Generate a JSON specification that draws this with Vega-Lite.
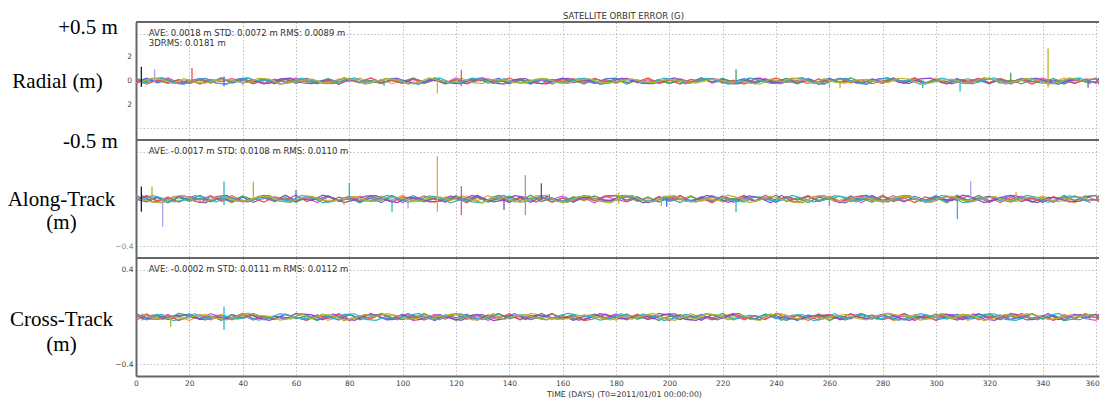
{
"$schema":"https://vega.github.io/schema/vega-lite/v6.json",
"background":"white",
"padding":{"left":7,"top":12,"right":0,"bottom":0},
"spacing":0,
"bounds":"flush",
"config":{
 "view":{"stroke":null},
 "axis":{"gridColor":"#bdbdbd","gridDash":[1.5,2],"gridWidth":1,"ticks":false,"domain":false,"labelFont":"DejaVu Sans","labelFontSize":7.5,"labelColor":"#444","labelFlush":false,"labelOverlap":false,"titleFont":"Liberation Serif","titleFontSize":21,"titleFontWeight":"normal","titleColor":"#000"}
},
"datasets":{
"radial":[
{"t":0,"G05":-14,"G12":-22,"G07":-7,"G21":25,"G15":17},
{"t":4,"G05":20,"G12":17,"G07":24,"G21":-14,"G15":-27},
{"t":8,"G05":-6,"G12":-6,"G07":-15,"G21":5,"G15":10},
{"t":12,"G05":25,"G12":26,"G07":11,"G21":-21,"G15":-16},
{"t":16,"G05":-19,"G12":-16,"G07":-23,"G21":13,"G15":5},
{"t":20,"G05":9,"G12":9,"G07":2,"G21":-23,"G15":-20},
{"t":24,"G05":-24,"G12":-27,"G07":19,"G21":8,"G15":15},
{"t":28,"G05":13,"G12":12,"G07":-10,"G21":-17,"G15":-14},
{"t":32,"G05":-3,"G12":-4,"G07":26,"G21":27,"G15":20},
{"t":36,"G05":22,"G12":21,"G07":-18,"G21":-10,"G15":-6},
{"t":40,"G05":-17,"G12":-18,"G07":8,"G21":16,"G15":25},
{"t":44,"G05":6,"G12":7,"G07":-25,"G21":-5,"G15":-19},
{"t":48,"G05":-26,"G12":-24,"G07":14,"G21":20,"G15":9},
{"t":52,"G05":16,"G12":15,"G07":-5,"G21":-15,"G15":-24},
{"t":56,"G05":-9,"G12":-11,"G07":21,"G21":14,"G15":13},
{"t":60,"G05":27,"G12":23,"G07":-13,"G21":-20,"G15":-3},
{"t":64,"G05":-12,"G12":-2,"G07":23,"G21":6,"G15":22},
{"t":68,"G05":4,"G12":-19,"G07":-8,"G21":-25,"G15":-17},
{"t":72,"G05":-21,"G12":10,"G07":17,"G21":19,"G15":6},
{"t":76,"G05":18,"G12":-26,"G07":-27,"G21":-9,"G15":-26},
{"t":80,"G05":-7,"G12":18,"G07":10,"G21":24,"G15":16},
{"t":84,"G05":24,"G12":-8,"G07":-16,"G21":-13,"G15":-9},
{"t":88,"G05":-15,"G12":25,"G07":5,"G21":3,"G15":27},
{"t":92,"G05":11,"G12":-14,"G07":-20,"G21":-22,"G15":-12},
{"t":96,"G05":-23,"G12":5,"G07":15,"G21":17,"G15":4},
{"t":100,"G05":2,"G12":-21,"G07":-14,"G21":-6,"G15":-21},
{"t":104,"G05":19,"G12":13,"G07":20,"G21":26,"G15":18},
{"t":108,"G05":-10,"G12":-23,"G07":-6,"G21":-16,"G15":-7},
{"t":112,"G05":26,"G12":8,"G07":25,"G21":9,"G15":24},
{"t":116,"G05":-18,"G12":-17,"G07":-19,"G21":-27,"G15":-15},
{"t":120,"G05":8,"G12":27,"G07":9,"G21":12,"G15":11},
{"t":124,"G05":-25,"G12":-10,"G07":-24,"G21":-4,"G15":-23},
{"t":128,"G05":14,"G12":16,"G07":13,"G21":21,"G15":2},
{"t":132,"G05":-5,"G12":-5,"G07":-3,"G21":-18,"G15":19},
{"t":136,"G05":21,"G12":20,"G07":22,"G21":7,"G15":-10},
{"t":140,"G05":-13,"G12":-15,"G07":-17,"G21":-24,"G15":26},
{"t":144,"G05":23,"G12":14,"G07":6,"G21":15,"G15":-18},
{"t":148,"G05":-8,"G12":-20,"G07":-26,"G21":-11,"G15":8},
{"t":152,"G05":17,"G12":6,"G07":16,"G21":23,"G15":-25},
{"t":156,"G05":-27,"G12":-25,"G07":-9,"G21":-2,"G15":14},
{"t":160,"G05":10,"G12":19,"G07":27,"G21":-19,"G15":-5},
{"t":164,"G05":-16,"G12":-9,"G07":-12,"G21":10,"G15":21},
{"t":168,"G05":5,"G12":24,"G07":4,"G21":-26,"G15":-13},
{"t":172,"G05":-20,"G12":-13,"G07":-21,"G21":18,"G15":23},
{"t":176,"G05":15,"G12":3,"G07":18,"G21":-8,"G15":-8},
{"t":180,"G05":-22,"G12":-7,"G07":25,"G21":17,"G15":-14},
{"t":184,"G05":17,"G12":24,"G07":-14,"G21":-27,"G15":20},
{"t":188,"G05":-6,"G12":-15,"G07":5,"G21":10,"G15":-6},
{"t":192,"G05":26,"G12":11,"G07":-21,"G21":-16,"G15":25},
{"t":196,"G05":-16,"G12":-23,"G07":13,"G21":5,"G15":-19},
{"t":200,"G05":9,"G12":2,"G07":-23,"G21":-20,"G15":9},
{"t":204,"G05":-27,"G12":19,"G07":8,"G21":15,"G15":-24},
{"t":208,"G05":12,"G12":-10,"G07":-17,"G21":-14,"G15":13},
{"t":212,"G05":-4,"G12":26,"G07":27,"G21":20,"G15":-3},
{"t":216,"G05":21,"G12":-18,"G07":-10,"G21":-6,"G15":22},
{"t":220,"G05":-18,"G12":8,"G07":16,"G21":25,"G15":-17},
{"t":224,"G05":7,"G12":-25,"G07":-5,"G21":-19,"G15":6},
{"t":228,"G05":-24,"G12":14,"G07":20,"G21":9,"G15":-26},
{"t":232,"G05":15,"G12":-5,"G07":-15,"G21":-24,"G15":16},
{"t":236,"G05":-11,"G12":21,"G07":14,"G21":13,"G15":-9},
{"t":240,"G05":23,"G12":-13,"G07":-20,"G21":-3,"G15":27},
{"t":244,"G05":-2,"G12":23,"G07":6,"G21":22,"G15":-12},
{"t":248,"G05":-19,"G12":-8,"G07":-25,"G21":-17,"G15":4},
{"t":252,"G05":10,"G12":17,"G07":19,"G21":6,"G15":-21},
{"t":256,"G05":-26,"G12":-27,"G07":-9,"G21":-26,"G15":18},
{"t":260,"G05":18,"G12":10,"G07":24,"G21":16,"G15":-7},
{"t":264,"G05":-8,"G12":-16,"G07":-13,"G21":-9,"G15":24},
{"t":268,"G05":25,"G12":5,"G07":3,"G21":27,"G15":-15},
{"t":272,"G05":-14,"G12":-20,"G07":-22,"G21":-12,"G15":11},
{"t":276,"G05":5,"G12":15,"G07":17,"G21":4,"G15":-23},
{"t":280,"G05":-21,"G12":-14,"G07":-6,"G21":-21,"G15":2},
{"t":284,"G05":13,"G12":20,"G07":26,"G21":18,"G15":19},
{"t":288,"G05":-23,"G12":-6,"G07":-16,"G21":-7,"G15":-10},
{"t":292,"G05":8,"G12":25,"G07":9,"G21":24,"G15":26},
{"t":296,"G05":-17,"G12":-19,"G07":-27,"G21":-15,"G15":-18},
{"t":300,"G05":27,"G12":9,"G07":12,"G21":11,"G15":8},
{"t":304,"G05":-10,"G12":-24,"G07":-4,"G21":-23,"G15":-25},
{"t":308,"G05":16,"G12":13,"G07":21,"G21":2,"G15":14},
{"t":312,"G05":-5,"G12":-3,"G07":-18,"G21":19,"G15":-5},
{"t":316,"G05":20,"G12":22,"G07":7,"G21":-10,"G15":21},
{"t":320,"G05":-15,"G12":-17,"G07":-24,"G21":26,"G15":-13},
{"t":324,"G05":14,"G12":6,"G07":15,"G21":-18,"G15":23},
{"t":328,"G05":-20,"G12":-26,"G07":-11,"G21":8,"G15":-8},
{"t":332,"G05":6,"G12":16,"G07":23,"G21":-25,"G15":17},
{"t":336,"G05":-25,"G12":-9,"G07":-2,"G21":14,"G15":-27},
{"t":340,"G05":19,"G12":27,"G07":-19,"G21":-5,"G15":10},
{"t":344,"G05":-9,"G12":-12,"G07":10,"G21":21,"G15":-16},
{"t":348,"G05":24,"G12":4,"G07":-26,"G21":-13,"G15":5},
{"t":352,"G05":-13,"G12":-21,"G07":18,"G21":23,"G15":-20},
{"t":356,"G05":3,"G12":18,"G07":-8,"G21":-8,"G15":15},
{"t":360,"G05":-14,"G12":-22,"G07":-7,"G21":25,"G15":17},
{"t":361,"G05":20,"G12":17,"G07":24,"G21":-14,"G15":-27},
{"t":2,"G30":-14,"G03":-22,"G04":-7},
{"t":6,"G30":20,"G03":17,"G04":24},
{"t":10,"G30":25,"G03":26,"G04":11},
{"t":14,"G30":-19,"G03":-16,"G04":-23},
{"t":18,"G30":-24,"G03":-27,"G04":19},
{"t":22,"G30":13,"G03":12,"G04":-10},
{"t":26,"G30":22,"G03":21,"G04":-18},
{"t":30,"G30":-17,"G03":-18,"G04":8},
{"t":34,"G30":-26,"G03":-24,"G04":14},
{"t":38,"G30":16,"G03":15,"G04":-5},
{"t":42,"G30":27,"G03":23,"G04":-13},
{"t":46,"G30":-12,"G03":-2,"G04":23},
{"t":50,"G30":-21,"G03":10,"G04":17},
{"t":54,"G30":18,"G03":-26,"G04":-27},
{"t":58,"G30":24,"G03":-8,"G04":-16},
{"t":62,"G30":-15,"G03":25,"G04":5},
{"t":66,"G30":-23,"G03":5,"G04":15},
{"t":70,"G30":2,"G03":-21,"G04":-14},
{"t":74,"G30":-10,"G03":-23,"G04":-6},
{"t":78,"G30":26,"G03":8,"G04":25},
{"t":82,"G30":8,"G03":27,"G04":9},
{"t":86,"G30":-25,"G03":-10,"G04":-24},
{"t":90,"G30":-5,"G03":-5,"G04":-3},
{"t":94,"G30":21,"G03":20,"G04":22},
{"t":98,"G30":23,"G03":14,"G04":6},
{"t":102,"G30":-8,"G03":-20,"G04":-26},
{"t":106,"G30":-27,"G03":-25,"G04":-9},
{"t":110,"G30":10,"G03":19,"G04":27},
{"t":114,"G30":5,"G03":24,"G04":4},
{"t":118,"G30":-20,"G03":-13,"G04":-21},
{"t":122,"G30":-22,"G03":-7,"G04":25},
{"t":126,"G30":17,"G03":24,"G04":-14},
{"t":130,"G30":26,"G03":11,"G04":-21},
{"t":134,"G30":-16,"G03":-23,"G04":13},
{"t":138,"G30":-27,"G03":19,"G04":8},
{"t":142,"G30":12,"G03":-10,"G04":-17},
{"t":146,"G30":21,"G03":-18,"G04":-10},
{"t":150,"G30":-18,"G03":8,"G04":16},
{"t":154,"G30":-24,"G03":14,"G04":20},
{"t":158,"G30":15,"G03":-5,"G04":-15},
{"t":162,"G30":23,"G03":-13,"G04":-20},
{"t":166,"G30":-2,"G03":23,"G04":6},
{"t":170,"G30":10,"G03":17,"G04":19},
{"t":174,"G30":-26,"G03":-27,"G04":-9},
{"t":178,"G30":-8,"G03":-16,"G04":-13},
{"t":182,"G30":25,"G03":5,"G04":3},
{"t":186,"G30":5,"G03":15,"G04":17},
{"t":190,"G30":-21,"G03":-14,"G04":-6},
{"t":194,"G30":-23,"G03":-6,"G04":-16},
{"t":198,"G30":8,"G03":25,"G04":9},
{"t":202,"G30":27,"G03":9,"G04":12},
{"t":206,"G30":-10,"G03":-24,"G04":-4},
{"t":210,"G30":-5,"G03":-3,"G04":-18},
{"t":214,"G30":20,"G03":22,"G04":7},
{"t":218,"G30":14,"G03":6,"G04":15},
{"t":222,"G30":-20,"G03":-26,"G04":-11},
{"t":226,"G30":-25,"G03":-9,"G04":-2},
{"t":230,"G30":19,"G03":27,"G04":-19},
{"t":234,"G30":24,"G03":4,"G04":-26},
{"t":238,"G30":-13,"G03":-21,"G04":18},
{"t":242,"G30":-14,"G03":-22,"G04":-7},
{"t":246,"G30":20,"G03":17,"G04":24},
{"t":250,"G30":25,"G03":26,"G04":11},
{"t":254,"G30":-19,"G03":-16,"G04":-23},
{"t":258,"G30":-24,"G03":-27,"G04":19},
{"t":262,"G30":13,"G03":12,"G04":-10},
{"t":266,"G30":22,"G03":21,"G04":-18},
{"t":270,"G30":-17,"G03":-18,"G04":8},
{"t":274,"G30":-26,"G03":-24,"G04":14},
{"t":278,"G30":16,"G03":15,"G04":-5},
{"t":282,"G30":27,"G03":23,"G04":-13},
{"t":286,"G30":-12,"G03":-2,"G04":23},
{"t":290,"G30":-21,"G03":10,"G04":17},
{"t":294,"G30":18,"G03":-26,"G04":-27},
{"t":298,"G30":24,"G03":-8,"G04":-16},
{"t":302,"G30":-15,"G03":25,"G04":5},
{"t":306,"G30":-23,"G03":5,"G04":15},
{"t":310,"G30":2,"G03":-21,"G04":-14},
{"t":314,"G30":-10,"G03":-23,"G04":-6},
{"t":318,"G30":26,"G03":8,"G04":25},
{"t":322,"G30":8,"G03":27,"G04":9},
{"t":326,"G30":-25,"G03":-10,"G04":-24},
{"t":330,"G30":-5,"G03":-5,"G04":-3},
{"t":334,"G30":21,"G03":20,"G04":22},
{"t":338,"G30":23,"G03":14,"G04":6},
{"t":342,"G30":-8,"G03":-20,"G04":-26},
{"t":346,"G30":-27,"G03":-25,"G04":-9},
{"t":350,"G30":10,"G03":19,"G04":27},
{"t":354,"G30":5,"G03":24,"G04":4},
{"t":358,"G30":-20,"G03":-13,"G04":-21}
],
"along":[
{"t":0,"G05":31,"G12":-11,"G07":-3,"G21":29,"G15":-7},
{"t":4,"G05":-22,"G12":30,"G07":-24,"G21":-10,"G15":24},
{"t":8,"G05":12,"G12":-15,"G07":13,"G21":20,"G15":-19},
{"t":12,"G05":-29,"G12":6,"G07":-32,"G21":-31,"G15":18},
{"t":16,"G05":17,"G12":-25,"G07":21,"G21":13,"G15":-26},
{"t":20,"G05":-4,"G12":23,"G07":-10,"G21":-20,"G15":8},
{"t":24,"G05":27,"G12":-9,"G07":30,"G21":7,"G15":-31},
{"t":28,"G05":-20,"G12":28,"G07":-18,"G21":-24,"G15":22},
{"t":32,"G05":9,"G12":-19,"G07":7,"G21":19,"G15":-12},
{"t":36,"G05":-32,"G12":14,"G07":-25,"G21":-18,"G15":29},
{"t":40,"G05":21,"G12":-27,"G07":16,"G21":26,"G15":-17},
{"t":44,"G05":-11,"G12":3,"G07":-29,"G21":-8,"G15":4},
{"t":48,"G05":30,"G12":24,"G07":10,"G21":31,"G15":-27},
{"t":52,"G05":-15,"G12":-13,"G07":-20,"G21":-22,"G15":20},
{"t":56,"G05":6,"G12":32,"G07":31,"G21":12,"G15":-9},
{"t":60,"G05":-25,"G12":-21,"G07":-13,"G21":-29,"G15":32},
{"t":64,"G05":23,"G12":10,"G07":20,"G21":17,"G15":-21},
{"t":68,"G05":-9,"G12":-30,"G07":-7,"G21":-4,"G15":11},
{"t":72,"G05":28,"G12":18,"G07":24,"G21":27,"G15":-30},
{"t":76,"G05":-19,"G12":-7,"G07":-19,"G21":-20,"G15":15},
{"t":80,"G05":14,"G12":25,"G07":18,"G21":9,"G15":-6},
{"t":84,"G05":-27,"G12":-16,"G07":-26,"G21":-32,"G15":25},
{"t":88,"G05":3,"G12":29,"G07":8,"G21":21,"G15":-23},
{"t":92,"G05":24,"G12":-10,"G07":-31,"G21":-11,"G15":9},
{"t":96,"G05":-13,"G12":20,"G07":22,"G21":30,"G15":-28},
{"t":100,"G05":32,"G12":-31,"G07":-12,"G21":-15,"G15":19},
{"t":104,"G05":-21,"G12":13,"G07":29,"G21":6,"G15":-14},
{"t":108,"G05":10,"G12":-20,"G07":-17,"G21":-25,"G15":27},
{"t":112,"G05":-30,"G12":7,"G07":4,"G21":23,"G15":-3},
{"t":116,"G05":18,"G12":-24,"G07":-27,"G21":-9,"G15":-24},
{"t":120,"G05":-7,"G12":19,"G07":20,"G21":28,"G15":13},
{"t":124,"G05":25,"G12":-18,"G07":-9,"G21":-19,"G15":-32},
{"t":128,"G05":-16,"G12":26,"G07":32,"G21":14,"G15":21},
{"t":132,"G05":29,"G12":-8,"G07":-21,"G21":-27,"G15":-10},
{"t":136,"G05":-10,"G12":31,"G07":11,"G21":3,"G15":30},
{"t":140,"G05":20,"G12":-22,"G07":-30,"G21":24,"G15":-18},
{"t":144,"G05":-31,"G12":12,"G07":15,"G21":-13,"G15":7},
{"t":148,"G05":13,"G12":-29,"G07":-6,"G21":32,"G15":-25},
{"t":152,"G05":-20,"G12":17,"G07":25,"G21":-21,"G15":16},
{"t":156,"G05":7,"G12":-4,"G07":-23,"G21":10,"G15":-29},
{"t":160,"G05":-24,"G12":27,"G07":9,"G21":-30,"G15":10},
{"t":164,"G05":19,"G12":-20,"G07":-28,"G21":18,"G15":-20},
{"t":168,"G05":-18,"G12":9,"G07":19,"G21":-7,"G15":31},
{"t":172,"G05":26,"G12":-32,"G07":-14,"G21":25,"G15":-13},
{"t":176,"G05":-8,"G12":21,"G07":27,"G21":-16,"G15":20},
{"t":180,"G05":-11,"G12":-3,"G07":29,"G21":-7,"G15":31},
{"t":184,"G05":30,"G12":-24,"G07":-10,"G21":24,"G15":-22},
{"t":188,"G05":-15,"G12":13,"G07":20,"G21":-19,"G15":12},
{"t":192,"G05":6,"G12":-32,"G07":-31,"G21":18,"G15":-29},
{"t":196,"G05":-25,"G12":21,"G07":13,"G21":-26,"G15":17},
{"t":200,"G05":23,"G12":-10,"G07":-20,"G21":8,"G15":-4},
{"t":204,"G05":-9,"G12":30,"G07":7,"G21":-31,"G15":27},
{"t":208,"G05":28,"G12":-18,"G07":-24,"G21":22,"G15":-20},
{"t":212,"G05":-19,"G12":7,"G07":19,"G21":-12,"G15":9},
{"t":216,"G05":14,"G12":-25,"G07":-18,"G21":29,"G15":-32},
{"t":220,"G05":-27,"G12":16,"G07":26,"G21":-17,"G15":21},
{"t":224,"G05":3,"G12":-29,"G07":-8,"G21":4,"G15":-11},
{"t":228,"G05":24,"G12":10,"G07":31,"G21":-27,"G15":30},
{"t":232,"G05":-13,"G12":-20,"G07":-22,"G21":20,"G15":-15},
{"t":236,"G05":32,"G12":31,"G07":12,"G21":-9,"G15":6},
{"t":240,"G05":-21,"G12":-13,"G07":-29,"G21":32,"G15":-25},
{"t":244,"G05":10,"G12":20,"G07":17,"G21":-21,"G15":23},
{"t":248,"G05":-30,"G12":-7,"G07":-4,"G21":11,"G15":-9},
{"t":252,"G05":18,"G12":24,"G07":27,"G21":-30,"G15":28},
{"t":256,"G05":-7,"G12":-19,"G07":-20,"G21":15,"G15":-19},
{"t":260,"G05":25,"G12":18,"G07":9,"G21":-6,"G15":14},
{"t":264,"G05":-16,"G12":-26,"G07":-32,"G21":25,"G15":-27},
{"t":268,"G05":29,"G12":8,"G07":21,"G21":-23,"G15":3},
{"t":272,"G05":-10,"G12":-31,"G07":-11,"G21":9,"G15":24},
{"t":276,"G05":20,"G12":22,"G07":30,"G21":-28,"G15":-13},
{"t":280,"G05":-31,"G12":-12,"G07":-15,"G21":19,"G15":32},
{"t":284,"G05":13,"G12":29,"G07":6,"G21":-14,"G15":-21},
{"t":288,"G05":-20,"G12":-17,"G07":-25,"G21":27,"G15":10},
{"t":292,"G05":7,"G12":4,"G07":23,"G21":-3,"G15":-30},
{"t":296,"G05":-24,"G12":-27,"G07":-9,"G21":-24,"G15":18},
{"t":300,"G05":19,"G12":20,"G07":28,"G21":13,"G15":-7},
{"t":304,"G05":-18,"G12":-9,"G07":-19,"G21":-32,"G15":25},
{"t":308,"G05":26,"G12":32,"G07":14,"G21":21,"G15":-16},
{"t":312,"G05":-8,"G12":-21,"G07":-27,"G21":-10,"G15":29},
{"t":316,"G05":31,"G12":11,"G07":3,"G21":30,"G15":-10},
{"t":320,"G05":-22,"G12":-30,"G07":24,"G21":-18,"G15":20},
{"t":324,"G05":12,"G12":15,"G07":-13,"G21":7,"G15":-31},
{"t":328,"G05":-29,"G12":-6,"G07":32,"G21":-25,"G15":13},
{"t":332,"G05":17,"G12":25,"G07":-21,"G21":16,"G15":-20},
{"t":336,"G05":-4,"G12":-23,"G07":10,"G21":-29,"G15":7},
{"t":340,"G05":27,"G12":9,"G07":-30,"G21":10,"G15":-24},
{"t":344,"G05":-20,"G12":-28,"G07":18,"G21":-20,"G15":19},
{"t":348,"G05":9,"G12":19,"G07":-7,"G21":31,"G15":-18},
{"t":352,"G05":-32,"G12":-14,"G07":25,"G21":-13,"G15":26},
{"t":356,"G05":21,"G12":27,"G07":-16,"G21":20,"G15":-8},
{"t":360,"G05":31,"G12":-11,"G07":-3,"G21":29,"G15":-7},
{"t":361,"G05":-22,"G12":30,"G07":-24,"G21":-10,"G15":24},
{"t":2,"G30":31,"G03":-11,"G04":-3},
{"t":6,"G30":-22,"G03":30,"G04":-24},
{"t":10,"G30":-29,"G03":6,"G04":-32},
{"t":14,"G30":17,"G03":-25,"G04":21},
{"t":18,"G30":27,"G03":-9,"G04":30},
{"t":22,"G30":-20,"G03":28,"G04":-18},
{"t":26,"G30":-32,"G03":14,"G04":-25},
{"t":30,"G30":21,"G03":-27,"G04":16},
{"t":34,"G30":30,"G03":24,"G04":10},
{"t":38,"G30":-15,"G03":-13,"G04":-20},
{"t":42,"G30":-25,"G03":-21,"G04":-13},
{"t":46,"G30":23,"G03":10,"G04":20},
{"t":50,"G30":28,"G03":18,"G04":24},
{"t":54,"G30":-19,"G03":-7,"G04":-19},
{"t":58,"G30":-27,"G03":-16,"G04":-26},
{"t":62,"G30":3,"G03":29,"G04":8},
{"t":66,"G30":-13,"G03":20,"G04":22},
{"t":70,"G30":32,"G03":-31,"G04":-12},
{"t":74,"G30":10,"G03":-20,"G04":-17},
{"t":78,"G30":-30,"G03":7,"G04":4},
{"t":82,"G30":-7,"G03":19,"G04":20},
{"t":86,"G30":25,"G03":-18,"G04":-9},
{"t":90,"G30":29,"G03":-8,"G04":-21},
{"t":94,"G30":-10,"G03":31,"G04":11},
{"t":98,"G30":-31,"G03":12,"G04":15},
{"t":102,"G30":13,"G03":-29,"G04":-6},
{"t":106,"G30":7,"G03":-4,"G04":-23},
{"t":110,"G30":-24,"G03":27,"G04":9},
{"t":114,"G30":-18,"G03":9,"G04":19},
{"t":118,"G30":26,"G03":-32,"G04":-14},
{"t":122,"G30":-11,"G03":-3,"G04":29},
{"t":126,"G30":30,"G03":-24,"G04":-10},
{"t":130,"G30":6,"G03":-32,"G04":-31},
{"t":134,"G30":-25,"G03":21,"G04":13},
{"t":138,"G30":-9,"G03":30,"G04":7},
{"t":142,"G30":28,"G03":-18,"G04":-24},
{"t":146,"G30":14,"G03":-25,"G04":-18},
{"t":150,"G30":-27,"G03":16,"G04":26},
{"t":154,"G30":24,"G03":10,"G04":31},
{"t":158,"G30":-13,"G03":-20,"G04":-22},
{"t":162,"G30":-21,"G03":-13,"G04":-29},
{"t":166,"G30":10,"G03":20,"G04":17},
{"t":170,"G30":18,"G03":24,"G04":27},
{"t":174,"G30":-7,"G03":-19,"G04":-20},
{"t":178,"G30":-16,"G03":-26,"G04":-32},
{"t":182,"G30":29,"G03":8,"G04":21},
{"t":186,"G30":20,"G03":22,"G04":30},
{"t":190,"G30":-31,"G03":-12,"G04":-15},
{"t":194,"G30":-20,"G03":-17,"G04":-25},
{"t":198,"G30":7,"G03":4,"G04":23},
{"t":202,"G30":19,"G03":20,"G04":28},
{"t":206,"G30":-18,"G03":-9,"G04":-19},
{"t":210,"G30":-8,"G03":-21,"G04":-27},
{"t":214,"G30":31,"G03":11,"G04":3},
{"t":218,"G30":12,"G03":15,"G04":-13},
{"t":222,"G30":-29,"G03":-6,"G04":32},
{"t":226,"G30":-4,"G03":-23,"G04":10},
{"t":230,"G30":27,"G03":9,"G04":-30},
{"t":234,"G30":9,"G03":19,"G04":-7},
{"t":238,"G30":-32,"G03":-14,"G04":25},
{"t":242,"G30":31,"G03":-11,"G04":-3},
{"t":246,"G30":-22,"G03":30,"G04":-24},
{"t":250,"G30":-29,"G03":6,"G04":-32},
{"t":254,"G30":17,"G03":-25,"G04":21},
{"t":258,"G30":27,"G03":-9,"G04":30},
{"t":262,"G30":-20,"G03":28,"G04":-18},
{"t":266,"G30":-32,"G03":14,"G04":-25},
{"t":270,"G30":21,"G03":-27,"G04":16},
{"t":274,"G30":30,"G03":24,"G04":10},
{"t":278,"G30":-15,"G03":-13,"G04":-20},
{"t":282,"G30":-25,"G03":-21,"G04":-13},
{"t":286,"G30":23,"G03":10,"G04":20},
{"t":290,"G30":28,"G03":18,"G04":24},
{"t":294,"G30":-19,"G03":-7,"G04":-19},
{"t":298,"G30":-27,"G03":-16,"G04":-26},
{"t":302,"G30":3,"G03":29,"G04":8},
{"t":306,"G30":-13,"G03":20,"G04":22},
{"t":310,"G30":32,"G03":-31,"G04":-12},
{"t":314,"G30":10,"G03":-20,"G04":-17},
{"t":318,"G30":-30,"G03":7,"G04":4},
{"t":322,"G30":-7,"G03":19,"G04":20},
{"t":326,"G30":25,"G03":-18,"G04":-9},
{"t":330,"G30":29,"G03":-8,"G04":-21},
{"t":334,"G30":-10,"G03":31,"G04":11},
{"t":338,"G30":-31,"G03":12,"G04":15},
{"t":342,"G30":13,"G03":-29,"G04":-6},
{"t":346,"G30":7,"G03":-4,"G04":-23},
{"t":350,"G30":-24,"G03":27,"G04":9},
{"t":354,"G30":-18,"G03":9,"G04":19},
{"t":358,"G30":26,"G03":-32,"G04":-14}
],
"cross":[
{"t":0,"G05":-4,"G12":-28,"G07":26,"G21":16,"G15":-6},
{"t":4,"G05":-18,"G12":16,"G07":-6,"G21":-25,"G15":27},
{"t":8,"G05":25,"G12":-11,"G07":18,"G21":8,"G15":-20},
{"t":12,"G05":-13,"G12":21,"G07":-23,"G21":-19,"G15":11},
{"t":16,"G05":9,"G12":-31,"G07":2,"G21":30,"G15":-29},
{"t":20,"G05":-30,"G12":10,"G07":27,"G21":15,"G15":4},
{"t":24,"G05":17,"G12":-14,"G07":-17,"G21":-22,"G15":18},
{"t":28,"G05":-7,"G12":29,"G07":10,"G21":6,"G15":-25},
{"t":32,"G05":23,"G12":-5,"G07":-28,"G21":-27,"G15":13},
{"t":36,"G05":-24,"G12":-22,"G07":21,"G21":20,"G15":-9},
{"t":40,"G05":4,"G12":15,"G07":-9,"G21":-11,"G15":30},
{"t":44,"G05":28,"G12":-26,"G07":16,"G21":29,"G15":-17},
{"t":48,"G05":-16,"G12":6,"G07":-25,"G21":-4,"G15":7},
{"t":52,"G05":11,"G12":-18,"G07":8,"G21":-18,"G15":-23},
{"t":56,"G05":-21,"G12":23,"G07":-19,"G21":25,"G15":24},
{"t":60,"G05":31,"G12":-2,"G07":30,"G21":-13,"G15":-4},
{"t":64,"G05":-10,"G12":-27,"G07":15,"G21":9,"G15":-28},
{"t":68,"G05":14,"G12":17,"G07":-22,"G21":-30,"G15":16},
{"t":72,"G05":-29,"G12":-10,"G07":6,"G21":17,"G15":-11},
{"t":76,"G05":5,"G12":28,"G07":-27,"G21":-7,"G15":21},
{"t":80,"G05":22,"G12":-21,"G07":20,"G21":23,"G15":-31},
{"t":84,"G05":-15,"G12":9,"G07":-11,"G21":-24,"G15":10},
{"t":88,"G05":26,"G12":-16,"G07":29,"G21":4,"G15":-14},
{"t":92,"G05":-6,"G12":25,"G07":-4,"G21":28,"G15":29},
{"t":96,"G05":18,"G12":-8,"G07":-18,"G21":-16,"G15":-5},
{"t":100,"G05":-23,"G12":19,"G07":25,"G21":11,"G15":-22},
{"t":104,"G05":2,"G12":-30,"G07":-13,"G21":-21,"G15":15},
{"t":108,"G05":27,"G12":-15,"G07":9,"G21":31,"G15":-26},
{"t":112,"G05":-17,"G12":22,"G07":-30,"G21":-10,"G15":6},
{"t":116,"G05":10,"G12":-6,"G07":17,"G21":14,"G15":-18},
{"t":120,"G05":-28,"G12":27,"G07":-7,"G21":-29,"G15":23},
{"t":124,"G05":21,"G12":-20,"G07":23,"G21":5,"G15":-2},
{"t":128,"G05":-9,"G12":11,"G07":-24,"G21":22,"G15":-27},
{"t":132,"G05":16,"G12":-29,"G07":4,"G21":-15,"G15":17},
{"t":136,"G05":-25,"G12":4,"G07":28,"G21":26,"G15":-10},
{"t":140,"G05":8,"G12":18,"G07":-16,"G21":-6,"G15":28},
{"t":144,"G05":-19,"G12":-25,"G07":11,"G21":18,"G15":-21},
{"t":148,"G05":30,"G12":13,"G07":-21,"G21":-23,"G15":9},
{"t":152,"G05":15,"G12":-9,"G07":31,"G21":2,"G15":-16},
{"t":156,"G05":-22,"G12":30,"G07":-10,"G21":27,"G15":25},
{"t":160,"G05":6,"G12":-17,"G07":14,"G21":-17,"G15":-8},
{"t":164,"G05":-27,"G12":7,"G07":-29,"G21":10,"G15":19},
{"t":168,"G05":20,"G12":-23,"G07":5,"G21":-28,"G15":-30},
{"t":172,"G05":-11,"G12":24,"G07":22,"G21":21,"G15":-15},
{"t":176,"G05":29,"G12":-4,"G07":-15,"G21":-9,"G15":22},
{"t":180,"G05":-28,"G12":26,"G07":16,"G21":-6,"G15":-4},
{"t":184,"G05":16,"G12":-6,"G07":-25,"G21":27,"G15":-18},
{"t":188,"G05":-11,"G12":18,"G07":8,"G21":-20,"G15":25},
{"t":192,"G05":21,"G12":-23,"G07":-19,"G21":11,"G15":-13},
{"t":196,"G05":-31,"G12":2,"G07":30,"G21":-29,"G15":9},
{"t":200,"G05":10,"G12":27,"G07":15,"G21":4,"G15":-30},
{"t":204,"G05":-14,"G12":-17,"G07":-22,"G21":18,"G15":17},
{"t":208,"G05":29,"G12":10,"G07":6,"G21":-25,"G15":-7},
{"t":212,"G05":-5,"G12":-28,"G07":-27,"G21":13,"G15":23},
{"t":216,"G05":-22,"G12":21,"G07":20,"G21":-9,"G15":-24},
{"t":220,"G05":15,"G12":-9,"G07":-11,"G21":30,"G15":4},
{"t":224,"G05":-26,"G12":16,"G07":29,"G21":-17,"G15":28},
{"t":228,"G05":6,"G12":-25,"G07":-4,"G21":7,"G15":-16},
{"t":232,"G05":-18,"G12":8,"G07":-18,"G21":-23,"G15":11},
{"t":236,"G05":23,"G12":-19,"G07":25,"G21":24,"G15":-21},
{"t":240,"G05":-2,"G12":30,"G07":-13,"G21":-4,"G15":31},
{"t":244,"G05":-27,"G12":15,"G07":9,"G21":-28,"G15":-10},
{"t":248,"G05":17,"G12":-22,"G07":-30,"G21":16,"G15":14},
{"t":252,"G05":-10,"G12":6,"G07":17,"G21":-11,"G15":-29},
{"t":256,"G05":28,"G12":-27,"G07":-7,"G21":21,"G15":5},
{"t":260,"G05":-21,"G12":20,"G07":23,"G21":-31,"G15":22},
{"t":264,"G05":9,"G12":-11,"G07":-24,"G21":10,"G15":-15},
{"t":268,"G05":-16,"G12":29,"G07":4,"G21":-14,"G15":26},
{"t":272,"G05":25,"G12":-4,"G07":28,"G21":29,"G15":-6},
{"t":276,"G05":-8,"G12":-18,"G07":-16,"G21":-5,"G15":18},
{"t":280,"G05":19,"G12":25,"G07":11,"G21":-22,"G15":-23},
{"t":284,"G05":-30,"G12":-13,"G07":-21,"G21":15,"G15":2},
{"t":288,"G05":-15,"G12":9,"G07":31,"G21":-26,"G15":27},
{"t":292,"G05":22,"G12":-30,"G07":-10,"G21":6,"G15":-17},
{"t":296,"G05":-6,"G12":17,"G07":14,"G21":-18,"G15":10},
{"t":300,"G05":27,"G12":-7,"G07":-29,"G21":23,"G15":-28},
{"t":304,"G05":-20,"G12":23,"G07":5,"G21":-2,"G15":21},
{"t":308,"G05":11,"G12":-24,"G07":22,"G21":-27,"G15":-9},
{"t":312,"G05":-29,"G12":4,"G07":-15,"G21":17,"G15":16},
{"t":316,"G05":4,"G12":28,"G07":26,"G21":-10,"G15":-25},
{"t":320,"G05":18,"G12":-16,"G07":-6,"G21":28,"G15":8},
{"t":324,"G05":-25,"G12":11,"G07":18,"G21":-21,"G15":-19},
{"t":328,"G05":13,"G12":-21,"G07":-23,"G21":9,"G15":30},
{"t":332,"G05":-9,"G12":31,"G07":2,"G21":-16,"G15":15},
{"t":336,"G05":30,"G12":-10,"G07":27,"G21":25,"G15":-22},
{"t":340,"G05":-17,"G12":14,"G07":-17,"G21":-8,"G15":6},
{"t":344,"G05":7,"G12":-29,"G07":10,"G21":19,"G15":-27},
{"t":348,"G05":-23,"G12":5,"G07":-28,"G21":-30,"G15":20},
{"t":352,"G05":24,"G12":22,"G07":21,"G21":-15,"G15":-11},
{"t":356,"G05":-4,"G12":-15,"G07":-9,"G21":22,"G15":29},
{"t":360,"G05":-4,"G12":-28,"G07":26,"G21":16,"G15":-6},
{"t":361,"G05":-18,"G12":16,"G07":-6,"G21":-25,"G15":27},
{"t":2,"G30":-4,"G03":-28,"G04":26},
{"t":6,"G30":-18,"G03":16,"G04":-6},
{"t":10,"G30":-13,"G03":21,"G04":-23},
{"t":14,"G30":9,"G03":-31,"G04":2},
{"t":18,"G30":17,"G03":-14,"G04":-17},
{"t":22,"G30":-7,"G03":29,"G04":10},
{"t":26,"G30":-24,"G03":-22,"G04":21},
{"t":30,"G30":4,"G03":15,"G04":-9},
{"t":34,"G30":-16,"G03":6,"G04":-25},
{"t":38,"G30":11,"G03":-18,"G04":8},
{"t":42,"G30":31,"G03":-2,"G04":30},
{"t":46,"G30":-10,"G03":-27,"G04":15},
{"t":50,"G30":-29,"G03":-10,"G04":6},
{"t":54,"G30":5,"G03":28,"G04":-27},
{"t":58,"G30":-15,"G03":9,"G04":-11},
{"t":62,"G30":26,"G03":-16,"G04":29},
{"t":66,"G30":18,"G03":-8,"G04":-18},
{"t":70,"G30":-23,"G03":19,"G04":25},
{"t":74,"G30":27,"G03":-15,"G04":9},
{"t":78,"G30":-17,"G03":22,"G04":-30},
{"t":82,"G30":-28,"G03":27,"G04":-7},
{"t":86,"G30":21,"G03":-20,"G04":23},
{"t":90,"G30":16,"G03":-29,"G04":4},
{"t":94,"G30":-25,"G03":4,"G04":28},
{"t":98,"G30":-19,"G03":-25,"G04":11},
{"t":102,"G30":30,"G03":13,"G04":-21},
{"t":106,"G30":-22,"G03":30,"G04":-10},
{"t":110,"G30":6,"G03":-17,"G04":14},
{"t":114,"G30":20,"G03":-23,"G04":5},
{"t":118,"G30":-11,"G03":24,"G04":22},
{"t":122,"G30":-28,"G03":26,"G04":16},
{"t":126,"G30":16,"G03":-6,"G04":-25},
{"t":130,"G30":21,"G03":-23,"G04":-19},
{"t":134,"G30":-31,"G03":2,"G04":30},
{"t":138,"G30":-14,"G03":-17,"G04":-22},
{"t":142,"G30":29,"G03":10,"G04":6},
{"t":146,"G30":-22,"G03":21,"G04":20},
{"t":150,"G30":15,"G03":-9,"G04":-11},
{"t":154,"G30":6,"G03":-25,"G04":-4},
{"t":158,"G30":-18,"G03":8,"G04":-18},
{"t":162,"G30":-2,"G03":30,"G04":-13},
{"t":166,"G30":-27,"G03":15,"G04":9},
{"t":170,"G30":-10,"G03":6,"G04":17},
{"t":174,"G30":28,"G03":-27,"G04":-7},
{"t":178,"G30":9,"G03":-11,"G04":-24},
{"t":182,"G30":-16,"G03":29,"G04":4},
{"t":186,"G30":-8,"G03":-18,"G04":-16},
{"t":190,"G30":19,"G03":25,"G04":11},
{"t":194,"G30":-15,"G03":9,"G04":31},
{"t":198,"G30":22,"G03":-30,"G04":-10},
{"t":202,"G30":27,"G03":-7,"G04":-29},
{"t":206,"G30":-20,"G03":23,"G04":5},
{"t":210,"G30":-29,"G03":4,"G04":-15},
{"t":214,"G30":4,"G03":28,"G04":26},
{"t":218,"G30":-25,"G03":11,"G04":18},
{"t":222,"G30":13,"G03":-21,"G04":-23},
{"t":226,"G30":30,"G03":-10,"G04":27},
{"t":230,"G30":-17,"G03":14,"G04":-17},
{"t":234,"G30":-23,"G03":5,"G04":-28},
{"t":238,"G30":24,"G03":22,"G04":21},
{"t":242,"G30":-4,"G03":-28,"G04":26},
{"t":246,"G30":-18,"G03":16,"G04":-6},
{"t":250,"G30":-13,"G03":21,"G04":-23},
{"t":254,"G30":9,"G03":-31,"G04":2},
{"t":258,"G30":17,"G03":-14,"G04":-17},
{"t":262,"G30":-7,"G03":29,"G04":10},
{"t":266,"G30":-24,"G03":-22,"G04":21},
{"t":270,"G30":4,"G03":15,"G04":-9},
{"t":274,"G30":-16,"G03":6,"G04":-25},
{"t":278,"G30":11,"G03":-18,"G04":8},
{"t":282,"G30":31,"G03":-2,"G04":30},
{"t":286,"G30":-10,"G03":-27,"G04":15},
{"t":290,"G30":-29,"G03":-10,"G04":6},
{"t":294,"G30":5,"G03":28,"G04":-27},
{"t":298,"G30":-15,"G03":9,"G04":-11},
{"t":302,"G30":26,"G03":-16,"G04":29},
{"t":306,"G30":18,"G03":-8,"G04":-18},
{"t":310,"G30":-23,"G03":19,"G04":25},
{"t":314,"G30":27,"G03":-15,"G04":9},
{"t":318,"G30":-17,"G03":22,"G04":-30},
{"t":322,"G30":-28,"G03":27,"G04":-7},
{"t":326,"G30":21,"G03":-20,"G04":23},
{"t":330,"G30":16,"G03":-29,"G04":4},
{"t":334,"G30":-25,"G03":4,"G04":28},
{"t":338,"G30":-19,"G03":-25,"G04":11},
{"t":342,"G30":30,"G03":13,"G04":-21},
{"t":346,"G30":-22,"G03":30,"G04":-10},
{"t":350,"G30":6,"G03":-17,"G04":14},
{"t":354,"G30":20,"G03":-23,"G04":5},
{"t":358,"G30":-11,"G03":24,"G04":22}
],
"spikes":[
{"comp":"radial","t":2,"sat":"G01","mm":-50,"mm2":120},
{"comp":"radial","t":7,"sat":"G02","mm":-10,"mm2":100},
{"comp":"radial","t":21,"sat":"G15","mm":-5,"mm2":110},
{"comp":"radial","t":33,"sat":"G07","mm":-45,"mm2":40},
{"comp":"radial","t":40,"sat":"G02","mm":-35,"mm2":5},
{"comp":"radial","t":93,"sat":"G21","mm":-40,"mm2":5},
{"comp":"radial","t":113,"sat":"G05","mm":-105,"mm2":10},
{"comp":"radial","t":122,"sat":"G12","mm":-44,"mm2":95},
{"comp":"radial","t":225,"sat":"G21","mm":-10,"mm2":100},
{"comp":"radial","t":260,"sat":"G05","mm":-60,"mm2":5},
{"comp":"radial","t":264,"sat":"G04","mm":-60,"mm2":5},
{"comp":"radial","t":295,"sat":"G03","mm":-60,"mm2":5},
{"comp":"radial","t":309,"sat":"G03","mm":-90,"mm2":5},
{"comp":"radial","t":328,"sat":"G21","mm":-5,"mm2":70},
{"comp":"radial","t":342,"sat":"G04","mm":-55,"mm2":275},
{"comp":"radial","t":357,"sat":"G30","mm":-55,"mm2":5},
{"comp":"along","t":2,"sat":"G01","mm":-107,"mm2":105},
{"comp":"along","t":6,"sat":"G04","mm":-5,"mm2":105},
{"comp":"along","t":10,"sat":"G02","mm":-235,"mm2":0},
{"comp":"along","t":33,"sat":"G03","mm":-50,"mm2":147},
{"comp":"along","t":44,"sat":"G04","mm":-5,"mm2":147},
{"comp":"along","t":60,"sat":"G07","mm":-5,"mm2":76},
{"comp":"along","t":78,"sat":"G05","mm":-50,"mm2":5},
{"comp":"along","t":80,"sat":"G03","mm":-10,"mm2":135},
{"comp":"along","t":96,"sat":"G03","mm":-107,"mm2":5},
{"comp":"along","t":102,"sat":"G02","mm":-80,"mm2":5},
{"comp":"along","t":113,"sat":"G05","mm":-107,"mm2":365},
{"comp":"along","t":122,"sat":"G12","mm":-136,"mm2":110},
{"comp":"along","t":138,"sat":"G30","mm":-93,"mm2":5},
{"comp":"along","t":146,"sat":"G08","mm":-136,"mm2":203},
{"comp":"along","t":152,"sat":"G09","mm":-5,"mm2":133},
{"comp":"along","t":155,"sat":"G12","mm":-5,"mm2":40},
{"comp":"along","t":181,"sat":"G04","mm":-40,"mm2":55},
{"comp":"along","t":197,"sat":"G04","mm":-60,"mm2":5},
{"comp":"along","t":199,"sat":"G07","mm":-65,"mm2":5},
{"comp":"along","t":225,"sat":"G03","mm":-110,"mm2":5},
{"comp":"along","t":260,"sat":"G03","mm":-60,"mm2":5},
{"comp":"along","t":308,"sat":"G03","mm":-170,"mm2":5},
{"comp":"along","t":313,"sat":"G02","mm":-5,"mm2":150},
{"comp":"along","t":330,"sat":"G05","mm":-5,"mm2":60},
{"comp":"cross","t":13,"sat":"G04","mm":-82,"mm2":5},
{"comp":"cross","t":33,"sat":"G03","mm":-110,"mm2":87}
],
"stats":[
{"comp":"radial","label":"AVE: 0.0018 m STD: 0.0072 m RMS: 0.0089 m\n3DRMS: 0.0181 m"},
{"comp":"along","label":"AVE: -0.0017 m STD: 0.0108 m RMS: 0.0110 m"},
{"comp":"cross","label":"AVE: -0.0002 m STD: 0.0111 m RMS: 0.0112 m"}
]
},
"vconcat":[
{
 "width":963,"height":118,
 "title":{"text":"SATELLITE ORBIT ERROR (G)","frame":"group","anchor":"middle","fontSize":8.5,"font":"DejaVu Sans","fontWeight":"normal","color":"#333","baseline":"alphabetic","offset":-11,"dx":6},
 "layer":[
  {"data":{"name":"radial"},"transform":[{"fold":["G05","G12","G07","G21","G15","G30","G03","G04"],"as":["sat","mm"]},{"filter":"isValid(datum.mm)"}],
   "mark":{"type":"line","strokeWidth":1.2},
   "encoding":{
    "x":{"field":"t","type":"quantitative","scale":{"domain":[0,361.1],"nice":false,"zero":false},
     "axis":{"values":[0,20,40,60,80,100,120,140,160,180,200,220,240,260,280,300,320,340,360],"labels":false,"title":null,"grid":true}},
    "y":{"field":"mm","type":"quantitative","scale":{"domain":[-500,500],"nice":false},
     "axis":{"values":[400,200,0,-200,-400],"labels":false,
      "grid":true,"domain":true,"domainColor":"#666","domainWidth":2,
      "title":"Radial (m)","titleAngle":0,"titleAlign":"center","titleBaseline":"middle","titleX":-79,"titleY":59}},
    "color":{"field":"sat","type":"nominal","legend":null,
     "scale":{"domain":["G05","G12","G07","G21","G15","G01","G02","G03","G04","G08","G09","G30"],
      "range":["#f0a23c","#d94fc6","#4d6fe0","#3da36b","#e5544c","#1e1e1e","#a8a4ee","#2bb5c7","#b7b42a","#8aa6a8","#5e5a2e","#8b46c9"]}}
   }},
  {"data":{"name":"spikes"},"transform":[{"filter":"datum.comp=='radial'"}],
   "mark":{"type":"rule","strokeWidth":1.3},
   "encoding":{
    "x":{"field":"t","type":"quantitative"},
    "y":{"field":"mm","type":"quantitative"},
    "y2":{"field":"mm2"},
    "color":{"field":"sat","type":"nominal","legend":null}
   }},
  {"data":{"name":"stats"},"transform":[{"filter":"datum.comp=='radial'"}],
   "mark":{"type":"text","align":"left","baseline":"top","lineBreak":"\n","lineHeight":10,"fontSize":8.5,"font":"DejaVu Sans","color":"#333"},
   "encoding":{"x":{"datum":4.8,"type":"quantitative"},"y":{"datum":442,"type":"quantitative"},"text":{"field":"label"}}},
  {"data":{"name":"stats"},"transform":[{"filter":"datum.comp=='radial'"}],
   "mark":{"type":"text","align":"right","baseline":"middle","fontSize":7.5,"font":"DejaVu Sans","color":"#444"},
   "encoding":{"x":{"datum":-1.5,"type":"quantitative"},"y":{"datum":200,"type":"quantitative"},"text":{"value":"2"}}},
  {"data":{"name":"stats"},"transform":[{"filter":"datum.comp=='radial'"}],
   "mark":{"type":"text","align":"right","baseline":"middle","fontSize":7.5,"font":"DejaVu Sans","color":"#444"},
   "encoding":{"x":{"datum":-1.5,"type":"quantitative"},"y":{"datum":0,"type":"quantitative"},"text":{"value":"0"}}},
  {"data":{"name":"stats"},"transform":[{"filter":"datum.comp=='radial'"}],
   "mark":{"type":"text","align":"right","baseline":"middle","fontSize":7.5,"font":"DejaVu Sans","color":"#444"},
   "encoding":{"x":{"datum":-1.5,"type":"quantitative"},"y":{"datum":-200,"type":"quantitative"},"text":{"value":"2"}}},
  {"data":{"name":"stats"},"transform":[{"filter":"datum.comp=='radial'"}],
   "mark":{"type":"text","align":"right","baseline":"middle","dy":5.5,"fontSize":21,"font":"Liberation Serif","color":"#000"},
   "encoding":{"x":{"datum":-6.8,"type":"quantitative"},"y":{"datum":500,"type":"quantitative"},"text":{"value":"+0.5 m"}}},
  {"data":{"name":"stats"},"transform":[{"filter":"datum.comp=='radial'"}],
   "mark":{"type":"text","align":"right","baseline":"middle","dy":2,"fontSize":21,"font":"Liberation Serif","color":"#000"},
   "encoding":{"x":{"datum":-6.8,"type":"quantitative"},"y":{"datum":-500,"type":"quantitative"},"text":{"value":"-0.5 m"}}},
  {"data":{"name":"stats"},"transform":[{"filter":"datum.comp=='radial'"}],
   "mark":{"type":"rule","color":"#666","strokeWidth":2},
   "encoding":{"y":{"datum":500,"type":"quantitative"}}}
 ]
},
{
 "width":963,"height":118,
 "layer":[
  {"data":{"name":"along"},"transform":[{"fold":["G05","G12","G07","G21","G15","G30","G03","G04"],"as":["sat","mm"]},{"filter":"isValid(datum.mm)"}],
   "mark":{"type":"line","strokeWidth":1.2},
   "encoding":{
    "x":{"field":"t","type":"quantitative","scale":{"domain":[0,361.1],"nice":false,"zero":false},
     "axis":{"values":[0,20,40,60,80,100,120,140,160,180,200,220,240,260,280,300,320,340,360],"labels":false,"title":null,"grid":true}},
    "y":{"field":"mm","type":"quantitative","scale":{"domain":[-500,500],"nice":false},
     "axis":{"values":[400,200,0,-200,-400],
      "labelExpr":"datum.value==-400?'−0.4':''",
      "labelColor":"#8a8a8a","labelPadding":3,
      "grid":true,"domain":true,"domainColor":"#666","domainWidth":2,
      "title":["Along-Track","(m)"],"titleAngle":0,"titleAlign":"center","titleBaseline":"middle","titleX":-75,"titleY":59,"titleLineHeight":23}},
    "color":{"field":"sat","type":"nominal","legend":null,
     "scale":{"domain":["G05","G12","G07","G21","G15","G01","G02","G03","G04","G08","G09","G30"],
      "range":["#f0a23c","#d94fc6","#4d6fe0","#3da36b","#e5544c","#1e1e1e","#a8a4ee","#2bb5c7","#b7b42a","#8aa6a8","#5e5a2e","#8b46c9"]}}
   }},
  {"data":{"name":"spikes"},"transform":[{"filter":"datum.comp=='along'"}],
   "mark":{"type":"rule","strokeWidth":1.3},
   "encoding":{
    "x":{"field":"t","type":"quantitative"},
    "y":{"field":"mm","type":"quantitative"},
    "y2":{"field":"mm2"},
    "color":{"field":"sat","type":"nominal","legend":null}
   }},
  {"data":{"name":"stats"},"transform":[{"filter":"datum.comp=='along'"}],
   "mark":{"type":"text","align":"left","baseline":"top","lineBreak":"\n","lineHeight":10,"fontSize":8.5,"font":"DejaVu Sans","color":"#333"},
   "encoding":{"x":{"datum":4.8,"type":"quantitative"},"y":{"datum":442,"type":"quantitative"},"text":{"field":"label"}}},
  {"data":{"name":"stats"},"transform":[{"filter":"datum.comp=='along'"}],
   "mark":{"type":"rule","color":"#666","strokeWidth":2},
   "encoding":{"y":{"datum":500,"type":"quantitative"}}}
 ]
},
{
 "width":963,"height":118,
 "layer":[
  {"data":{"name":"cross"},"transform":[{"fold":["G05","G12","G07","G21","G15","G30","G03","G04"],"as":["sat","mm"]},{"filter":"isValid(datum.mm)"}],
   "mark":{"type":"line","strokeWidth":1.2},
   "encoding":{
    "x":{"field":"t","type":"quantitative","scale":{"domain":[0,361.1],"nice":false,"zero":false},
     "axis":{"values":[0,20,40,60,80,100,120,140,160,180,200,220,240,260,280,300,320,340,360],"grid":true,
      "labelPadding":3,"labelOffset":{"condition":{"test":"datum.value==360","value":-4},"value":0},
      "domain":true,"domainColor":"#666","domainWidth":2,
      "title":"TIME (DAYS) (T0=2011/01/01 00:00:00)","titleFont":"DejaVu Sans","titleFontSize":7.8,"titleColor":"#333","titlePadding":4,"titleX":488,"titleAlign":"center"}},
    "y":{"field":"mm","type":"quantitative","scale":{"domain":[-500,500],"nice":false},
     "axis":{"values":[400,200,0,-200,-400],
      "labelExpr":"datum.value==400?'0.4':datum.value==-400?'−0.4':''",
      "labelPadding":3,
      "grid":true,"domain":true,"domainColor":"#666","domainWidth":2,
      "title":["Cross-Track","(m)"],"titleAngle":0,"titleAlign":"center","titleBaseline":"middle","titleX":-75,"titleY":61,"titleLineHeight":25}},
    "color":{"field":"sat","type":"nominal","legend":null,
     "scale":{"domain":["G05","G12","G07","G21","G15","G01","G02","G03","G04","G08","G09","G30"],
      "range":["#f0a23c","#d94fc6","#4d6fe0","#3da36b","#e5544c","#1e1e1e","#a8a4ee","#2bb5c7","#b7b42a","#8aa6a8","#5e5a2e","#8b46c9"]}}
   }},
  {"data":{"name":"spikes"},"transform":[{"filter":"datum.comp=='cross'"}],
   "mark":{"type":"rule","strokeWidth":1.3},
   "encoding":{
    "x":{"field":"t","type":"quantitative"},
    "y":{"field":"mm","type":"quantitative"},
    "y2":{"field":"mm2"},
    "color":{"field":"sat","type":"nominal","legend":null}
   }},
  {"data":{"name":"stats"},"transform":[{"filter":"datum.comp=='cross'"}],
   "mark":{"type":"text","align":"left","baseline":"top","lineBreak":"\n","lineHeight":10,"fontSize":8.5,"font":"DejaVu Sans","color":"#333"},
   "encoding":{"x":{"datum":4.8,"type":"quantitative"},"y":{"datum":442,"type":"quantitative"},"text":{"field":"label"}}},
  {"data":{"name":"stats"},"transform":[{"filter":"datum.comp=='cross'"}],
   "mark":{"type":"rule","color":"#666","strokeWidth":2},
   "encoding":{"y":{"datum":500,"type":"quantitative"}}}
 ]
}
]
}
